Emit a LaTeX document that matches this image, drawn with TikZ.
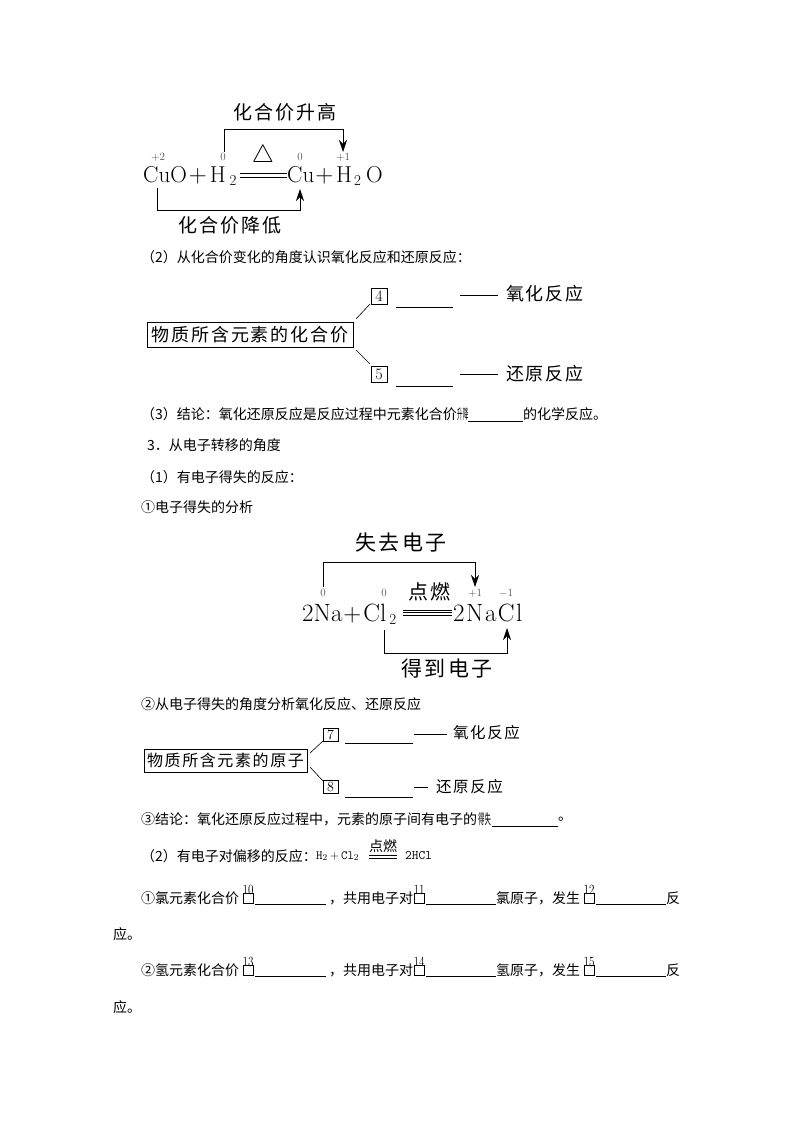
\documentclass[tikz,border=0pt]{standalone}
\usepackage{fontspec}
\newfontfamily\cjk{Noto Sans CJK SC}
\newfontfamily\cjkw[LetterSpace=10]{Noto Sans CJK SC}
\usetikzlibrary{arrows.meta}
\def\low#1{\raisebox{-3pt}{\fontsize{15}{15}\selectfont #1}}
\tikzset{
  line/.style={inner sep=0,anchor=west,font=\fontsize{14}{14}\cjk},
  big/.style={inner sep=0,font=\fontsize{19}{19}\cjkw},
  eqn/.style={inner sep=0,anchor=base west,font=\fontsize{23}{23}\selectfont},
  eqnb/.style={inner sep=0,anchor=base west,font=\fontsize{25}{25}\selectfont},
  val/.style={inner sep=0,font=\fontsize{11}{11}\selectfont,text=black!70},
  tag/.style={draw,line width=0.6pt,inner sep=0,minimum width=16pt,minimum height=16pt,font=\fontsize{16}{16}\selectfont},
  slot/.style={draw,line width=0.6pt,inner sep=0,minimum width=10pt,minimum height=10pt},
  num/.style={inner sep=0,font=\fontsize{14}{14}\selectfont},
  blank/.style={line width=0.7pt},
  link/.style={line width=0.6pt},
  head/.style={line width=0.7pt,-{Stealth[length=12pt,width=8pt]}},
}
\begin{document}
\begin{tikzpicture}[x=1pt,y=-1pt]
  \useasboundingbox (0,0) rectangle (794,1123);
  % first reaction
  \node [eqn] (cuo) at (143,183) {CuO\kern2pt{$+$}\kern3pt H\kern4pt\low{2}};
  \node [eqn] (cu) at (287,183) {Cu\kern1pt{$+$}\kern3pt H\kern2pt\low{2}\kern5pt O};
  \node [val] (va) at (158,157) {$+$2};
  \node [val] (vb) at (223,157) {0};
  \node [val] (vc) at (300,157) {0};
  \node [val] (vd) at (343,157) {$+$1};
  \node [inner sep=0,font=\fontsize{24}{24}\selectfont] (heat) at (263,156) {$\triangle$};
  \draw [line width=0.7pt] (240,173.5) coordinate (ea) -- (287,173.5) coordinate (eb);
  \draw [line width=0.7pt] (240,177) coordinate (ec) -- (287,177) coordinate (ed);
  \node [big] (up) at (285,112) {化合价升高};
  \node [big] (down) at (230,225) {化合价降低};
  \coordinate (upa) at (224,152);
  \coordinate (upb) at (343,152);
  \coordinate (dna) at (157,188);
  \coordinate (dnb) at (300,189);
  \draw [head] (upa) |- (343,129) -- (upb);
  \draw [head] (dna) |- (300,210) -- (dnb);
  \node [line] (l2) at (141,257) {（2）从化合价变化的角度认识氧化反应和还原反应：};

  % first tree
  \node [draw,line width=0.6pt,inner sep=0,minimum width=206pt,minimum height=25pt,font=\fontsize{18}{18}\cjkw] (box) at (250,334.5) {物质所含元素的化合价};
  \node [tag] (t4) at (379,296) {4};
  \node [tag] (t5) at (379,374) {5};
  \draw [link] (356,319) coordinate (ba) -- (370,304) coordinate (bb);
  \draw [link] (356,350) coordinate (bc) -- (370,364) coordinate (bd);
  \draw [blank] (396,307) coordinate (fa) -- (453,307) coordinate (fb);
  \draw [blank] (396,386) coordinate (fc) -- (453,386) coordinate (fd);
  \draw [link] (460,295) coordinate (ga) -- (498,295) coordinate (gb);
  \draw [link] (460,374) coordinate (gc) -- (498,374) coordinate (gd);
  \node [inner sep=0,anchor=west,font=\fontsize{18}{18}\cjkw] (ox1) at (506,294) {氧化反应};
  \node [inner sep=0,anchor=west,font=\fontsize{18}{18}\cjkw] (re1) at (506,374) {还原反应};

  \node [line] (l3) at (141,414) {（3）结论：氧化还原反应是反应过程中元素化合价};
  \node [line] (l3a) at (457,414) {\scalebox{0.4}[1]{升降}};
  \draw [blank] (468,421) coordinate (fe) -- (523,421) coordinate (ff);
  \node [line] (l3b) at (523,414) {的化学反应。};
  \node [line] (l4) at (147,445) {3．从电子转移的角度};
  \node [line] (l5) at (141,477) {（1）有电子得失的反应：};
  \node [line] (l6) at (141,507) {①电子得失的分析};

  % second reaction
  \node [eqnb] (na) at (302,621) {2Na\kern1pt{$+$}\kern2pt Cl\kern3pt\low{2}};
  \node [eqnb] (nacl) at (453,621) {2\kern1.5pt N\kern1.5pt a\kern1.5pt C\kern1.5pt l};
  \node [val] (ve) at (323,593) {0};
  \node [val] (vf) at (384,593) {0};
  \node [val] (vg) at (475,593) {$+$1};
  \node [val] (vh) at (506,593) {$-$1};
  \node [inner sep=0,font=\fontsize{20}{20}\cjkw] (fire) at (429,592) {点燃};
  \draw [line width=0.7pt] (403,610) coordinate (eka) -- (452,610) coordinate (ekb);
  \draw [line width=0.7pt] (403,612.5) coordinate (ekc) -- (452,612.5) coordinate (ekd);
  \draw [line width=0.7pt] (403,615) coordinate (eke) -- (452,615) coordinate (ekf);
  \node [inner sep=0,font=\fontsize{21}{21}\cjkw] (lose) at (401,543) {失去电子};
  \node [inner sep=0,font=\fontsize{21}{21}\cjkw] (gain) at (447,669) {得到电子};
  \coordinate (lsa) at (323,587);
  \coordinate (lsb) at (475,587);
  \coordinate (gna) at (384,630);
  \coordinate (gnb) at (507,628);
  \draw [head] (lsa) |- (475,562) -- (lsb);
  \draw [head] (gna) |- (507,653) -- (gnb);

  \node [line] (l7) at (141,704) {②从电子得失的角度分析氧化反应、还原反应};
  % second tree
  \node [draw,line width=0.6pt,inner sep=0,minimum width=163pt,minimum height=23pt,font=\fontsize{16}{16}\cjkw] (box2) at (225.5,760.5) {物质所含元素的原子};
  \node [tag,minimum width=15pt,minimum height=13pt,font=\fontsize{14}{14}\selectfont] (t7) at (330.5,734.5) {7};
  \node [tag,minimum width=15pt,minimum height=13pt,font=\fontsize{14}{14}\selectfont] (t8) at (330.5,787) {8};
  \draw [link] (310,753) coordinate (ha) -- (323,741) coordinate (hb);
  \draw [link] (310,767) coordinate (hc) -- (323,781) coordinate (hd);
  \draw [blank] (345,743) coordinate (ja) -- (413,743) coordinate (jb);
  \draw [blank] (345,797) coordinate (jc) -- (413,797) coordinate (jd);
  \draw [link] (414,734) coordinate (ka) -- (447,734) coordinate (kb);
  \draw [link] (414,787) coordinate (kc) -- (428,787) coordinate (kd);
  \node [inner sep=0,anchor=west,font=\fontsize{15.5}{15.5}\cjkw] (ox2) at (453,733) {氧化反应};
  \node [inner sep=0,anchor=west,font=\fontsize{15.5}{15.5}\cjkw] (re2) at (436,787) {还原反应};

  \node [line] (l8) at (141,819) {③结论：氧化还原反应过程中，元素的原子间有电子的};
  \node [line] (l8a) at (478,819) {\scalebox{0.46}[1]{得失}};
  \draw [blank] (492,826) coordinate (me) -- (558,826) coordinate (mf);
  \node [line] (l8b) at (558,819) {。};

  \node [line] (l9) at (141,856) {（2）有电子对偏移的反应：};
  \node [inner sep=0,anchor=west,font=\fontsize{12.5}{12.5}\ttfamily] (hh) at (316,856) {H$_2$\,$+$\,Cl$_2$};
  \node [inner sep=0,font=\fontsize{14}{14}\cjk] (fire2) at (383,846) {点燃};
  \draw [line width=0.6pt] (369,855) coordinate (na1) -- (397,855) coordinate (na2);
  \draw [line width=0.6pt] (369,858) coordinate (nb1) -- (397,858) coordinate (nb2);
  \node [inner sep=0,anchor=west,font=\fontsize{13}{13}\ttfamily] (hcl) at (405,856) {2HCl};

  % last paragraph
  \foreach \name/\ya/\tx/\txb/\numa/\numb/\numc in
  {a/898/①氯元素化合价/氯原子，发生/10/11/12, b/970/②氢元素化合价/氢原子，发生/13/14/15}
  {
    \node [line] (p\name) at (141,\ya) {\tx};
    \node [slot] (m1\name) at (248,\ya) {};
    \node [num] (n1\name) at (248,\ya-8.5) {\scalebox{.8}[1]{\numa}};
    \draw [blank] (255,\ya+6) coordinate (u1\name) -- (326,\ya+6) coordinate (v1\name);
    \node [line] (q\name) at (329,\ya) {，共用电子对};
    \node [slot] (m2\name) at (419,\ya) {};
    \node [num] (n2\name) at (419,\ya-8.5) {\scalebox{.8}[1]{\numb}};
    \draw [blank] (426,\ya+6) coordinate (u2\name) -- (496,\ya+6) coordinate (v2\name);
    \node [line] (r\name) at (496,\ya) {\txb};
    \node [slot] (m3\name) at (589,\ya) {};
    \node [num] (n3\name) at (589,\ya-8.5) {\scalebox{.8}[1]{\numc}};
    \draw [blank] (596,\ya+6) coordinate (u3\name) -- (666,\ya+6) coordinate (v3\name);
    \node [line] (s\name) at (666,\ya) {反};
  }
  \node [line] (pa2) at (113,934) {应。};
  \node [line] (pb2) at (113,1007) {应。};
\end{tikzpicture}
\end{document}
